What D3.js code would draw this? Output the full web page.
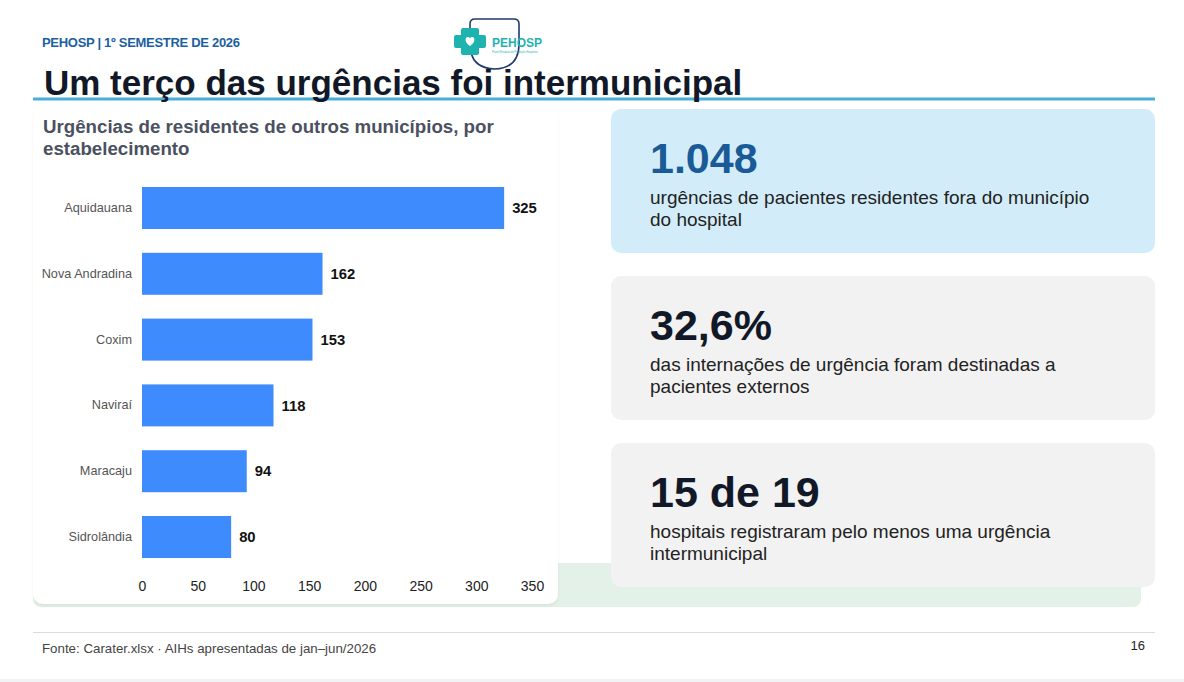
<!DOCTYPE html>
<html>
<head>
<meta charset="utf-8">
<script src="https://cdn.jsdelivr.net/npm/d3@7"></script>
<style>
  body { margin: 0; background: #fff; }
  svg { display: block; font-family: "Liberation Sans", Arial, sans-serif; }
</style>
</head>
<body>
<div class="svg"></div>
<script>
// data
var categories = ["Aquidauana", "Nova Andradina", "Coxim", "Naviraí", "Maracaju", "Sidrolândia"];
var values = [325, 162, 153, 118, 94, 80];
var xTicks = [0, 50, 100, 150, 200, 250, 300, 350];
var kpiNumbers = ["1.048", "32,6%", "15 de 19"];
var kpiLines = [
    ["urgências de pacientes residentes fora do município", "do hospital"],
    ["das internações de urgência foram destinadas a", "pacientes externos"],
    ["hospitais registraram pelo menos uma urgência", "intermunicipal"]
];

var width = 1184,
    height = 682;

var svg = d3.select(".svg").append("svg")
    .attr("width", width)
    .attr("height", height);

var defs = svg.append("defs");
defs.append("filter").attr("id", "shadow")
    .attr("x", "-5%").attr("y", "-5%").attr("width", "110%").attr("height", "110%")
    .append("feDropShadow")
    .attr("dx", 0).attr("dy", 2).attr("stdDeviation", 1.5)
    .attr("flood-color", "#000").attr("flood-opacity", 0.05);

// header
svg.append("text")
    .attr("x", 42).attr("y", 47)
    .attr("font-size", 13).attr("font-weight", "bold")
    .attr("letter-spacing", -0.3)
    .attr("fill", "#1b5fa3")
    .text("PEHOSP | 1º SEMESTRE DE 2026");

// logo
var logo = svg.append("g");
logo.append("path")
    .attr("d", "M470,30 L470,24 Q470,19 475,19 L514,19 Q519,19 519,24 L519,44 Q519,68 495,69 Q474,68 471,52")
    .attr("fill", "none").attr("stroke", "#1f3b70").attr("stroke-width", 1.6);
logo.append("path")
    .attr("d", "M463,28 h14 q2,0 2,2 v5 h5 q2,0 2,2 v9 q0,2 -2,2 h-5 v5 q0,2 -2,2 h-14 q-2,0 -2,-2 v-5 h-5 q-2,0 -2,-2 v-9 q0,-2 2,-2 h5 v-5 q0,-2 2,-2 z")
    .attr("fill", "#1fb3b0");
logo.append("path")
    .attr("d", "M470,46 C464,42 465,37 468,37 C469.5,37 470,38.5 470,38.5 C470,38.5 470.5,37 472,37 C475,37 476,42 470,46 Z")
    .attr("fill", "#fff");
logo.append("text")
    .attr("x", 492).attr("y", 47)
    .attr("font-size", 12).attr("font-weight", "bold")
    .attr("fill", "#1fb3b0")
    .text("PEHOSP");
logo.append("text")
    .attr("x", 492).attr("y", 53)
    .attr("font-size", 2.6).attr("fill", "#1fb3b0")
    .text("Painel Estadual de Produção Hospitalar");

// title + rule
svg.append("rect")
    .attr("x", 33).attr("y", 97.5).attr("width", 1122).attr("height", 3)
    .attr("fill", "#4aafd8");
svg.append("text")
    .attr("x", 44).attr("y", 95)
    .attr("font-size", 35).attr("font-weight", "bold")
    .attr("fill", "#111827")
    .text("Um terço das urgências foi intermunicipal");

// green strip behind the cards
svg.append("rect")
    .attr("x", 33).attr("y", 563).attr("width", 1108).attr("height", 44)
    .attr("rx", 8).attr("fill", "#e3f1e8");

// chart card
svg.append("rect")
    .attr("x", 33).attr("y", 108).attr("width", 525).attr("height", 496)
    .attr("rx", 10).attr("fill", "#fff")
    .attr("filter", "url(#shadow)");

svg.selectAll(".subtitle")
    .data(["Urgências de residentes de outros municípios, por", "estabelecimento"])
    .enter().append("text")
    .attr("class", "subtitle")
    .attr("x", 43)
    .attr("y", function (d, i) { return 133 + i * 22; })
    .attr("font-size", 18.7).attr("font-weight", "bold")
    .attr("fill", "#4b5160")
    .text(function (d) { return d; });

var x = d3.scaleLinear()
    .domain([0, 350])
    .range([142, 532]);

var y = d3.scaleBand()
    .domain(categories)
    .range([187, 558])
    .paddingInner(0.362)
    .paddingOuter(0);

var rows = categories.map(function (c, i) { return { name: c, value: values[i] }; });

svg.selectAll(".bar")
    .data(rows)
    .enter().append("rect")
    .attr("class", "bar")
    .attr("x", x(0))
    .attr("y", function (d) { return y(d.name); })
    .attr("width", function (d) { return x(d.value) - x(0); })
    .attr("height", y.bandwidth())
    .attr("fill", "#3d8bfd");

svg.selectAll(".val")
    .data(rows)
    .enter().append("text")
    .attr("class", "val")
    .attr("x", function (d) { return x(d.value) + 8; })
    .attr("y", function (d) { return y(d.name) + y.bandwidth() / 2; })
    .attr("dy", "0.35em")
    .attr("font-size", 14.8).attr("font-weight", "bold")
    .attr("fill", "#111")
    .text(function (d) { return d.value; });

var yAxis = svg.append("g")
    .attr("transform", "translate(" + (x(0) - 10) + ",0)")
    .call(d3.axisLeft(y).tickSize(0).tickPadding(0));
yAxis.select(".domain").remove();
yAxis.selectAll("text")
    .attr("font-family", "Liberation Sans, Arial, sans-serif")
    .attr("font-size", 12.7).attr("fill", "#555");

var xAxis = svg.append("g")
    .attr("transform", "translate(0,578)")
    .call(d3.axisBottom(x).tickValues(xTicks).tickSize(0).tickPadding(3));
xAxis.select(".domain").remove();
xAxis.selectAll("text")
    .attr("font-family", "Liberation Sans, Arial, sans-serif")
    .attr("font-size", 14).attr("fill", "#222");

// KPI cards
var cardFill = ["#d2edf9", "#f2f2f2", "#f2f2f2"];
var numFill = ["#1a5a96", "#111827", "#111827"];

var cards = svg.selectAll(".card")
    .data(kpiNumbers)
    .enter().append("g")
    .attr("class", "card")
    .attr("transform", function (d, i) { return "translate(611," + (109 + i * 167) + ")"; });

cards.append("rect")
    .attr("width", 544).attr("height", 144).attr("rx", 10)
    .attr("fill", function (d, i) { return cardFill[i]; });

cards.append("text")
    .attr("x", 39).attr("y", 64)
    .attr("font-size", 43).attr("font-weight", "bold")
    .attr("fill", function (d, i) { return numFill[i]; })
    .text(function (d) { return d; });

cards.each(function (d, i) {
    d3.select(this).selectAll(".line")
        .data(kpiLines[i])
        .enter().append("text")
        .attr("class", "line")
        .attr("x", 39)
        .attr("y", function (t, j) { return 95 + j * 21.5; })
        .attr("font-size", 19).attr("fill", "#222")
        .text(function (t) { return t; });
});

// footer
svg.append("rect")
    .attr("x", 33).attr("y", 632).attr("width", 1122).attr("height", 1)
    .attr("fill", "#dcdcdc");
svg.append("text")
    .attr("x", 42).attr("y", 653)
    .attr("font-size", 13.3).attr("fill", "#444")
    .text("Fonte: Carater.xlsx · AIHs apresentadas de jan–jun/2026");
svg.append("text")
    .attr("x", 1145).attr("y", 650)
    .attr("text-anchor", "end")
    .attr("font-size", 13).attr("fill", "#222")
    .text("16");
svg.append("rect")
    .attr("x", 0).attr("y", 679).attr("width", width).attr("height", 3)
    .attr("fill", "#f1f3f5");
</script>
</body>
</html>
